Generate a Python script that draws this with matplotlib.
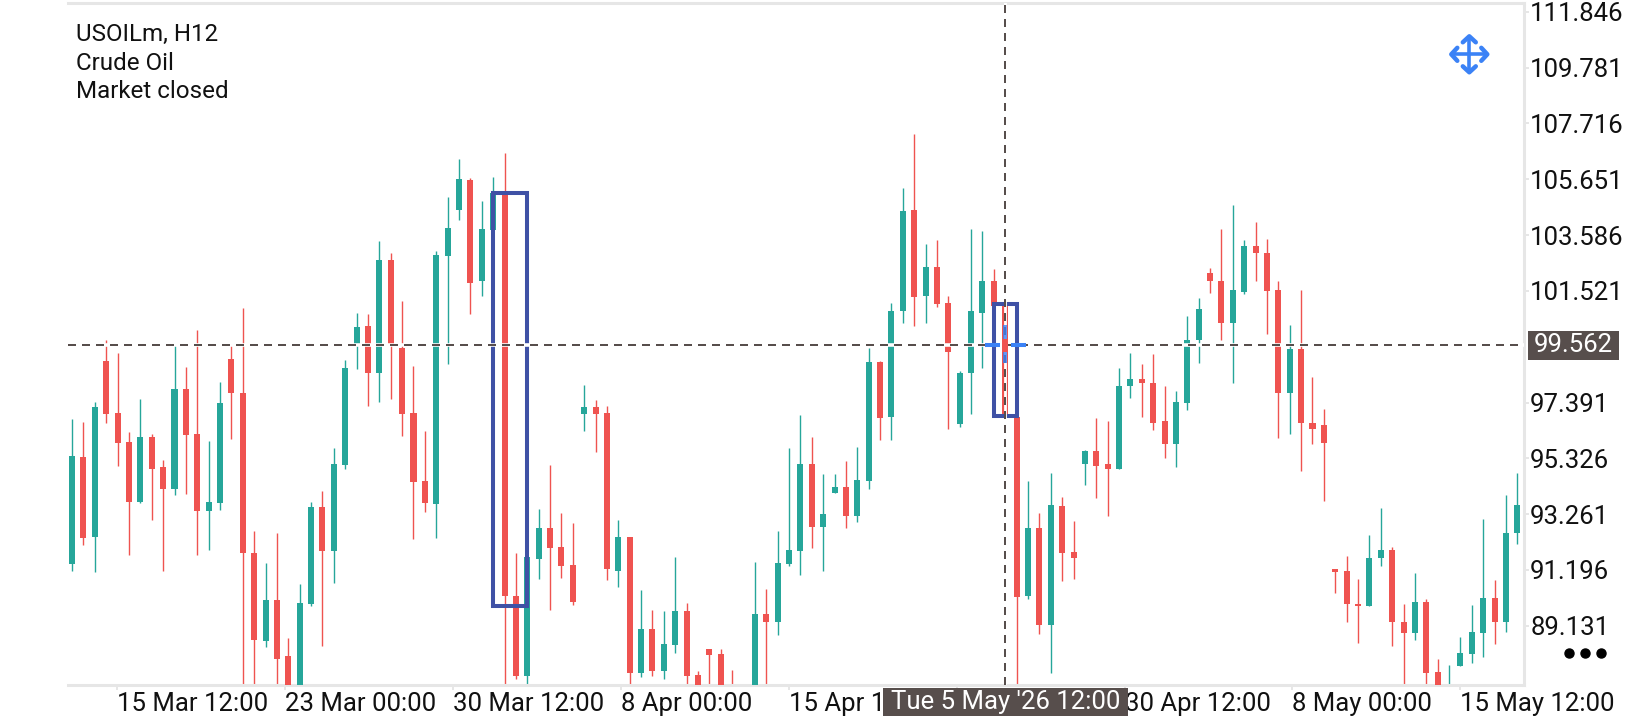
import matplotlib
matplotlib.use("Agg")
import matplotlib.pyplot as plt
from matplotlib.patches import Rectangle

plt.rcParams['font.family'] = ['Roboto', 'DejaVu Sans']

########  DATA  ########

opens = [91.42, 95.37, 92.42, 98.94, 97.01, 95.93, 93.71, 96.12, 95.01, 94.20,
         97.91, 96.24, 93.38, 93.67, 99.02, 97.75, 91.82, 88.56, 90.08, 88.00,
         86.70, 89.92, 93.53, 91.90, 95.09, 99.53, 100.24, 98.47, 102.65, 99.41,
         97.01, 94.50, 93.65, 102.80, 104.51, 105.62, 101.87, 103.76, 105.11, 90.25,
         87.26, 91.61, 92.74, 92.04, 91.38, 96.98, 97.23, 97.01, 91.15, 92.42,
         87.37, 89.01, 87.45, 88.42, 89.67, 87.30, 88.29, 88.08, 86.70, 86.00,
         86.70, 89.57, 89.26, 91.42, 91.90, 95.13, 92.78, 94.04, 94.26, 93.19,
         94.50, 98.90, 96.86, 100.76, 104.51, 101.35, 102.42, 101.06, 96.61, 98.47,
         100.72, 101.87, 100.98, 96.86, 90.22, 92.74, 89.15, 93.57, 91.86, 95.13,
         95.61, 95.13, 94.94, 98.01, 98.28, 98.12, 96.72, 95.87, 97.37, 99.69,
         102.17, 101.87, 100.34, 101.48, 103.18, 102.93, 101.57, 97.74, 99.39, 96.63,
         96.55, 91.23, 91.16, 89.92, 89.85, 91.63, 91.94, 89.29, 88.86, 90.00,
         87.42, 86.35, 87.65, 88.09, 88.86, 90.16, 89.29, 92.55]

closes = [95.42, 92.38, 97.23, 96.98, 95.90, 93.71, 96.12, 94.94, 94.20, 97.91,
          96.20, 93.38, 93.71, 97.37, 97.75, 91.82, 88.60, 90.08, 87.92, 86.70,
          89.96, 93.53, 91.90, 95.13, 98.68, 100.20, 98.47, 102.65, 99.53, 96.98,
          94.46, 93.67, 102.84, 103.84, 105.66, 101.83, 103.80, 105.16, 90.22, 87.26,
          91.67, 92.74, 92.00, 91.33, 90.00, 97.23, 96.98, 91.23, 92.42, 87.37,
          89.01, 87.45, 88.46, 89.67, 87.26, 86.70, 88.04, 86.70, 86.30, 86.70,
          89.57, 89.26, 91.45, 91.93, 95.13, 92.78, 93.27, 94.26, 93.19, 94.54,
          98.90, 96.82, 100.76, 104.46, 101.31, 102.42, 101.02, 99.27, 98.50, 100.76,
          101.87, 100.98, 96.88, 90.18, 92.74, 89.15, 93.61, 91.82, 91.63, 95.61,
          95.05, 94.94, 98.01, 98.28, 98.12, 96.64, 95.87, 97.42, 99.72, 100.84,
          101.87, 100.34, 101.54, 103.18, 102.91, 101.52, 97.74, 99.39, 96.63, 96.43,
          95.90, 91.13, 89.92, 89.85, 91.65, 91.94, 89.29, 88.86, 90.00, 87.38,
          86.70, 86.70, 88.11, 88.90, 90.16, 89.29, 92.57, 93.61]

highs = [96.80, 96.68, 97.40, 99.72, 99.23, 96.30, 97.54, 96.24, 95.27, 99.53,
         98.72, 100.09, 95.97, 98.16, 99.53, 100.90, 92.64, 91.45, 92.56, 88.67,
         90.68, 93.71, 94.12, 95.71, 98.98, 100.69, 100.65, 103.35, 102.92, 101.16,
         98.76, 96.34, 102.98, 104.98, 106.39, 105.70, 104.84, 105.73, 106.62, 91.82,
         91.67, 93.46, 95.09, 93.29, 92.93, 98.05, 97.50, 97.27, 93.05, 92.42,
         90.46, 89.71, 89.67, 91.67, 89.96, 87.45, 88.29, 88.29, 87.49, 86.99,
         91.49, 90.50, 92.64, 95.71, 96.94, 96.12, 94.76, 94.76, 95.23, 95.75,
         99.41, 98.94, 101.09, 105.32, 107.32, 103.24, 103.39, 101.35, 98.57, 103.80,
         103.73, 102.32, 100.98, 96.88, 94.50, 93.29, 94.78, 93.90, 93.01, 95.65,
         96.82, 96.72, 98.68, 99.23, 98.80, 99.20, 98.01, 97.83, 100.61, 101.24,
         102.35, 103.80, 104.69, 103.42, 104.07, 103.45, 101.89, 100.25, 101.57, 98.32,
         97.14, 91.23, 91.72, 90.86, 92.50, 93.48, 92.04, 89.92, 91.10, 90.11,
         87.89, 87.67, 88.71, 89.90, 93.09, 90.83, 93.98, 94.80]

lows = [91.15, 92.13, 91.11, 96.64, 95.05, 91.75, 93.67, 93.05, 91.15, 93.97,
        94.01, 91.75, 91.93, 93.42, 96.05, 86.70, 86.70, 88.34, 86.70, 86.40,
        86.30, 89.86, 88.38, 90.71, 94.94, 98.65, 97.27, 97.42, 97.54, 96.16,
        92.35, 93.34, 92.38, 98.80, 104.13, 100.65, 101.35, 103.76, 86.70, 87.15,
        86.70, 90.86, 89.71, 90.89, 89.89, 96.34, 95.57, 90.82, 90.56, 86.70,
        87.22, 87.26, 87.15, 88.11, 86.70, 86.30, 86.70, 86.30, 86.00, 85.80,
        86.30, 86.70, 88.78, 91.33, 91.01, 92.00, 91.15, 94.04, 92.74, 92.97,
        94.20, 96.01, 96.01, 100.34, 100.24, 100.32, 100.94, 96.43, 96.50, 96.98,
        98.68, 100.98, 96.88, 86.70, 90.12, 88.82, 87.37, 90.78, 90.86, 94.34,
        93.86, 93.19, 94.94, 97.57, 96.86, 96.39, 95.33, 95.01, 97.12, 98.86,
        101.44, 99.69, 98.12, 101.42, 101.90, 99.94, 96.08, 96.23, 94.84, 95.85,
        93.75, 90.35, 89.29, 88.51, 89.85, 91.35, 88.39, 86.70, 88.61, 86.70,
        86.30, 86.00, 87.65, 87.74, 87.97, 88.44, 88.92, 92.14]

price_ticks = [111.846, 109.781, 107.716, 105.651, 103.586, 101.521,
               97.391, 95.326, 93.261, 91.196, 89.131]
price_labels = ['111.846', '109.781', '107.716', '105.651', '103.586', '101.521',
                '97.391', '95.326', '93.261', '91.196', '89.131']

time_ticks = [3.92, 18.68, 33.44, 48.20, 62.96, 77.72, 92.48, 107.24, 122.00]
time_labels = ['15 Mar 12:00', '23 Mar 00:00', '30 Mar 12:00', '8 Apr 00:00', '15 Apr 12:00',
               '23 Apr 00:00', '30 Apr 12:00', '8 May 00:00', '15 May 12:00']

cross_candle = 82
cross_line = 99.53
cross_label = '99.562'
cross_time = "Tue 5 May '26 12:00"

# rectangle objects drawn on the chart: first candle, last candle, top, bottom
boxes = [(37, 40, 105.16, 89.86),
         (81, 83, 101.02, 96.88)]

info_lines = ['USOILm, H12', 'Crude Oil', 'Market closed']

UP = '#26A69A'
DOWN = '#EF5350'
GRID = '#E6E6E6'
DARK = '#574E4C'
BLUE = '#3F51A5'
HANDLE = '#3B82F6'

########  CHART  ########

fig = plt.figure(figsize=(16.4, 7.2), dpi=100)
ax = fig.add_axes([68 / 1640, 35.5 / 720, 1456.5 / 1640, 682 / 720])

x = list(range(len(opens)))
colors = [UP if c >= o else DOWN for o, c in zip(opens, closes)]
body_bottom = [min(o, c) for o, c in zip(opens, closes)]
body_height = [abs(c - o) for o, c in zip(opens, closes)]

ax.vlines(x, lows, highs, colors=colors, linewidth=1.0, zorder=2)
ax.bar(x, body_height, bottom=body_bottom, width=0.53, color=colors, linewidth=0, zorder=3)

for left, right, top, bottom in boxes:
    ax.add_patch(Rectangle((left, bottom), right - left, top - bottom, fill=False,
                           edgecolor=BLUE, linewidth=2.9, joinstyle='miter', zorder=4))

# crosshair, white casing under the dashes
ax.axhline(cross_line, color='white', linewidth=2.6, zorder=5)
ax.axvline(cross_candle, color='white', linewidth=2.0, zorder=5)
ax.axhline(cross_line, color=DARK, linewidth=1.44, linestyle=(0, (4, 3)), zorder=6)
ax.axvline(cross_candle, color=DARK, linewidth=1.44, linestyle=(0, (4, 3)), zorder=6)

ax.set_xlim(-0.36, 127.63)
ax.set_ylim(86.96, 112.19)

ax.yaxis.tick_right()
ax.set_yticks(price_ticks)
ax.set_yticklabels(price_labels, fontsize=18.5, color='#111111')
ax.set_xticks(time_ticks)
ax.set_xticklabels(time_labels, fontsize=18.5, color='#111111', ha='left')
ax.tick_params(axis='both', length=3.6, width=1.44, color=GRID, pad=0.5)
ax.tick_params(axis='x', pad=1.5)

ax.spines['left'].set_visible(False)
for name in ['top', 'right', 'bottom']:
    ax.spines[name].set_color(GRID)
    ax.spines[name].set_linewidth(2.2)

########  SCREEN ITEMS (pixel coordinates)  ########

ov = fig.add_axes([0, 0, 1, 1], zorder=10)
ov.set_xlim(0, 1640)
ov.set_ylim(720, 0)
ov.axis('off')

for y, line in zip([34.5, 63, 91], info_lines):
    ov.text(76, y, line, fontsize=17.4, color='#111111', va='center', ha='left')

# price and time labels of the crosshair
ov.add_patch(Rectangle((1528, 331), 91, 29, color=DARK, linewidth=0))
ov.text(1573.5, 345.5, cross_label, fontsize=18.5, color='white', va='center', ha='center')
ov.add_patch(Rectangle((883, 688), 245, 28, color=DARK, linewidth=0))
ov.text(1005.5, 702, cross_time, fontsize=18.5, color='white', va='center', ha='center')

# handle on the crosshair point
ov.add_patch(Rectangle((1002, 339), 6, 13, color=DOWN, linewidth=0))
for x0, x1 in [(985, 1000), (1011, 1026)]:
    ov.plot([x0, x1], [345, 345], color=HANDLE, linewidth=2.9, solid_capstyle='butt')
for y0, y1 in [(325, 339), (352, 363)]:
    ov.plot([1005, 1005], [y0, y1], color=HANDLE, linewidth=2.9, solid_capstyle='butt', alpha=0.8)

# move icon
cx, cy = 1469.3, 54.3
ov.plot([cx - 17, cx + 17], [cy, cy], color=HANDLE, linewidth=2.6, solid_capstyle='butt')
ov.plot([cx, cx], [cy - 17, cy + 17], color=HANDLE, linewidth=2.6, solid_capstyle='butt')
for dx, dy in [(1, 0), (-1, 0), (0, 1), (0, -1)]:
    tip = (cx + 18 * dx, cy + 18 * dy)
    a = (cx + 12 * dx + 6.5 * dy, cy + 12 * dy + 6.5 * dx)
    b = (cx + 12 * dx - 6.5 * dy, cy + 12 * dy - 6.5 * dx)
    ov.plot([a[0], tip[0], b[0]], [a[1], tip[1], b[1]], color=HANDLE, linewidth=3.2,
            solid_capstyle='round', solid_joinstyle='round')

# menu dots
ov.plot([1569, 1585, 1601], [653, 653, 653], linestyle='none', marker='o', markersize=6.5, color='black')

plt.savefig('out.png', dpi=100)
